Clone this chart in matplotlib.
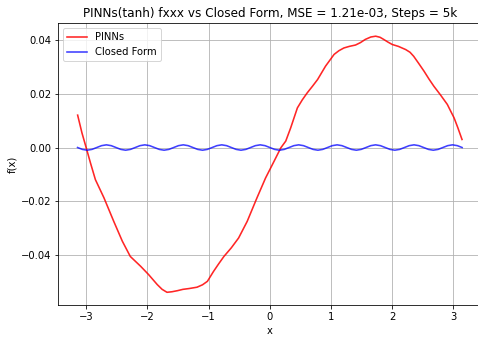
import numpy as np
import matplotlib
matplotlib.use("Agg")
import matplotlib.pyplot as plt

# PINNs prediction
pinn_x = [-3.14, -3.07, -3.00, -2.93, -2.85, -2.71, -2.55, -2.41, -2.28, -2.11,
          -1.98, -1.84, -1.76, -1.68, -1.60, -1.51, -1.42, -1.32, -1.19, -1.10,
          -1.02, -0.92, -0.84, -0.75, -0.63, -0.51, -0.37, -0.21, -0.07, 0.07,
          0.18, 0.26, 0.34, 0.45, 0.53, 0.61, 0.70, 0.78, 0.91, 1.05,
          1.13, 1.21, 1.30, 1.40, 1.48, 1.56, 1.65, 1.73, 1.80, 1.86,
          1.93, 2.00, 2.10, 2.22, 2.29, 2.35, 2.43, 2.52, 2.60, 2.68,
          2.79, 2.90, 2.95, 3.01, 3.07, 3.14]
pinn_y = [0.0121, 0.0055, -0.0001, -0.0058, -0.0120, -0.0188, -0.0276, -0.0350, -0.0407, -0.0444,
          -0.0475, -0.0512, -0.0530, -0.0541, -0.0539, -0.0535, -0.0530, -0.0527, -0.0522, -0.0513,
          -0.0500, -0.0463, -0.0436, -0.0407, -0.0375, -0.0338, -0.0276, -0.0188, -0.0114, -0.0051,
          -0.0001, 0.0024, 0.0073, 0.0148, 0.0178, 0.0204, 0.0230, 0.0254, 0.0304, 0.0348,
          0.0362, 0.0372, 0.0378, 0.0383, 0.0392, 0.0404, 0.0413, 0.0416, 0.0412, 0.0404,
          0.0394, 0.0385, 0.0378, 0.0366, 0.0356, 0.0341, 0.0315, 0.0285, 0.0256, 0.0229,
          0.0196, 0.0161, 0.0138, 0.0111, 0.0075, 0.0030]

closed_x = np.linspace(-np.pi, np.pi, 81)
closed_y = [0.0, -0.0007, -0.001, -0.0007, 0.0, 0.0007, 0.001, 0.0007,
            0.0, -0.0007, -0.001, -0.0007, 0.0, 0.0007, 0.001, 0.0007,
            0.0, -0.0007, -0.001, -0.0007, 0.0, 0.0007, 0.001, 0.0007,
            0.0, -0.0007, -0.001, -0.0007, 0.0, 0.0007, 0.001, 0.0007,
            0.0, -0.0007, -0.001, -0.0007, 0.0, 0.0007, 0.001, 0.0007,
            0.0, -0.0007, -0.001, -0.0007, 0.0, 0.0007, 0.001, 0.0007,
            0.0, -0.0007, -0.001, -0.0007, 0.0, 0.0007, 0.001, 0.0007,
            0.0, -0.0007, -0.001, -0.0007, 0.0, 0.0007, 0.001, 0.0007,
            0.0, -0.0007, -0.001, -0.0007, 0.0, 0.0007, 0.001, 0.0007,
            0.0, -0.0007, -0.001, -0.0007, 0.0, 0.0007, 0.001, 0.0007,
            0.0]

title = "PINNs(tanh) fxxx vs Closed Form, MSE = 1.21e-03, Steps = 5k"

fig = plt.figure(figsize=(478 / 72, 339 / 72), dpi=72)
ax = fig.add_axes([0.122, 0.100, 0.885, 0.831])
ax.plot(pinn_x, pinn_y, color="red", alpha=0.85, lw=1.6,
        solid_joinstyle="round", label="PINNs")
ax.plot(closed_x, closed_y, color="blue", alpha=0.75, lw=1.6,
        solid_joinstyle="round", label="Closed Form")
ax.grid(True, color="#b0b0b0", lw=0.8)
ax.set_axisbelow(True)
ax.set_xlabel("x")
ax.set_ylabel("f(x)")
ax.set_title(title)
ax.set_yticks([-0.04, -0.02, 0.0, 0.02, 0.04])
ax.set_xticks([-3, -2, -1, 0, 1, 2, 3])
ax.legend(loc="upper left")
fig.savefig("out.png", dpi=72)
